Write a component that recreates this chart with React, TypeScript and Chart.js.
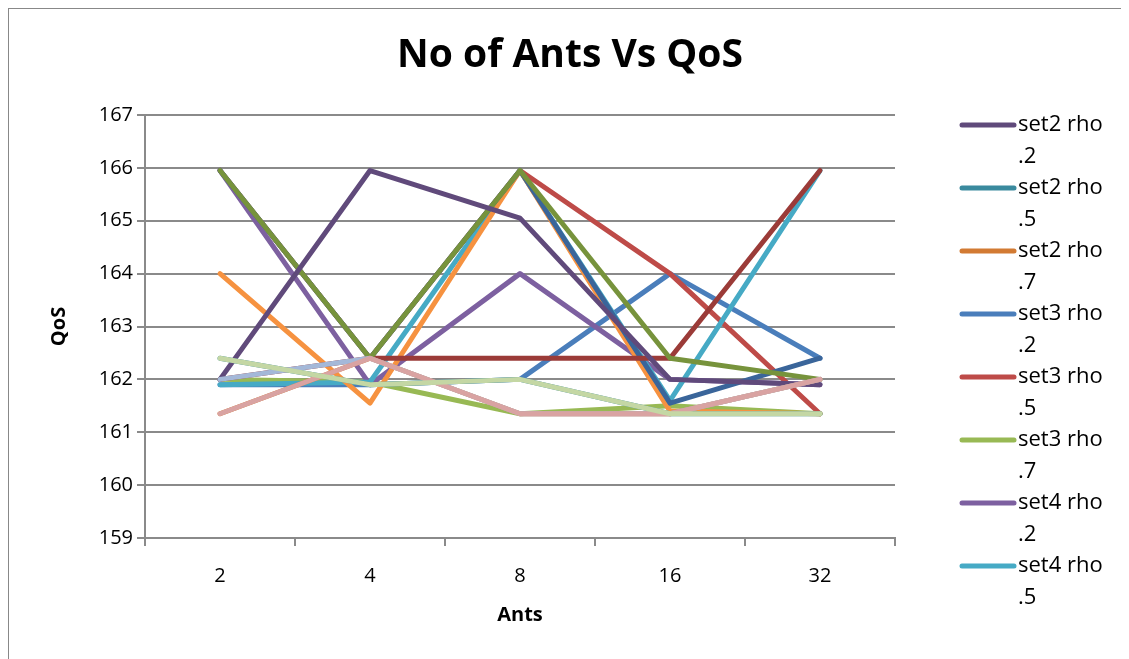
import React, { useEffect, useRef } from "react";
import { Chart, registerables } from "chart.js";

Chart.register(...registerables);

// Categories (number of ants)
const categories = ["2", "4", "8", "16", "32"];
const yMin = 159;
const yMax = 167;

// Series values (QoS)
const set3Rho2 = [161.9, 161.9, 162.0, 164.0, 162.4];
const set3Rho5 = [165.95, 162.4, 165.95, 164.0, 161.35];
const set3Rho7 = [162.0, 161.95, 161.35, 161.5, 161.35];
const set4Rho2 = [165.95, 161.9, 164.0, 162.0, 161.9];
const set4Rho5 = [161.9, 161.95, 165.95, 161.6, 165.95];
const set4Rho7 = [164.0, 161.55, 165.95, 161.4, 161.35];
const set5Rho2 = [165.95, 162.4, 165.95, 161.55, 162.4];
const set5Rho5 = [162.0, 162.4, 162.4, 162.4, 165.95];
const set5Rho7 = [165.95, 162.4, 165.95, 162.4, 162.0];
const set2Rho2 = [162.0, 165.95, 165.05, 162.0, 161.9];
const set2Rho5 = [162.4, 161.9, 162.0, 161.35, 161.35];
const set2Rho7 = [161.35, 162.4, 161.35, 161.35, 162.0];
const set1Rho2 = [162.0, 162.4, 161.35, 161.35, 162.0];
const set1Rho5 = [161.35, 162.4, 161.35, 161.35, 162.0];
const set1Rho7 = [162.4, 161.9, 162.0, 161.35, 161.35];

// Series in drawing order (later drawn on top)
const seriesLabels = [
  "set3 rho .2", "set3 rho .5", "set3 rho .7",
  "set4 rho .2", "set4 rho .5", "set4 rho .7",
  "set5 rho .2", "set5 rho .5", "set5 rho .7",
  "set2 rho .2", "set2 rho .5", "set2 rho .7",
  "set1 rho .2", "set1 rho .5", "set1 rho .7",
];
const seriesValues = [
  set3Rho2, set3Rho5, set3Rho7,
  set4Rho2, set4Rho5, set4Rho7,
  set5Rho2, set5Rho5, set5Rho7,
  set2Rho2, set2Rho5, set2Rho7,
  set1Rho2, set1Rho5, set1Rho7,
];
const seriesColors = [
  "#4A7EBB", "#BE4B48", "#98B954",
  "#7D60A0", "#46AAC5", "#F69240",
  "#3A659A", "#9B3B38", "#77933C",
  "#604A7B", "#3A8A9E", "#D27A33",
  "#A4B8D8", "#D9A3A2", "#C4D7A4",
];

// Entries shown in the (truncated) legend
const legendEntries = [
  "set2 rho .2", "set2 rho .5", "set2 rho .7",
  "set3 rho .2", "set3 rho .5", "set3 rho .7",
  "set4 rho .2", "set4 rho .5",
];

const chartTitle = "No of Ants Vs QoS";
const xTitle = "Ants";
const yTitle = "QoS";

const FONT = '"Open Sans", "Liberation Sans", sans-serif';
const GRID = "#8A8A8A";

const overlayPlugin = {
  id: "overlay",
  afterDraw(chart: any) {
    const ctx = chart.ctx;
    ctx.save();
    ctx.fillStyle = "#000";
    ctx.textAlign = "center";
    ctx.textBaseline = "middle";
    ctx.font = `bold 39px ${FONT}`;
    ctx.fillText(chartTitle, 561, 47);

    ctx.font = `22px ${FONT}`;
    ctx.textAlign = "left";
    legendEntries.forEach((name, i) => {
      const idx = seriesLabels.indexOf(name);
      const y = 116 + i * 63;
      ctx.strokeStyle = seriesColors[idx];
      ctx.lineWidth = 5;
      ctx.lineCap = "round";
      ctx.beginPath();
      ctx.moveTo(953, y);
      ctx.lineTo(1005, y);
      ctx.stroke();
      const cut = name.lastIndexOf(" ");
      ctx.fillStyle = "#000";
      ctx.fillText(name.slice(0, cut), 1009, y);
      ctx.fillText(name.slice(cut + 1), 1009, y + 32);
    });
    ctx.restore();
  },
};

export default function App() {
  const ref = useRef<HTMLCanvasElement | null>(null);

  useEffect(() => {
    document.body.style.overflow = "hidden";
    if (!ref.current) return;
    const chart = new Chart(ref.current, {
      type: "line",
      data: {
        labels: categories,
        datasets: seriesLabels.map((label, i) => ({
          label,
          data: seriesValues[i],
          borderColor: seriesColors[i],
          backgroundColor: seriesColors[i],
          borderWidth: 5,
          pointRadius: 0,
          pointHoverRadius: 0,
          tension: 0,
          fill: false,
          borderJoinStyle: "round" as const,
          borderCapStyle: "round" as const,
          order: seriesLabels.length - i,
        })),
      },
      options: {
        responsive: false,
        animation: false,
        layout: { padding: { left: 36, right: 243, top: 106, bottom: 31 } },
        plugins: {
          legend: { display: false },
          title: { display: false },
          tooltip: { enabled: false },
        },
        scales: {
          x: {
            type: "category",
            offset: true,
            afterFit: (s: any) => {
              s.height = 91;
            },
            grid: {
              display: true,
              drawOnChartArea: false,
              drawTicks: true,
              offset: true,
              tickLength: 8,
              color: GRID,
              lineWidth: 2,
            },
            border: { display: true, color: GRID, width: 2 },
            ticks: { color: "#000", padding: 18, font: { family: FONT, size: 20 } },
            title: {
              display: true,
              text: xTitle,
              color: "#000",
              font: { family: FONT, size: 20, weight: "bold" },
              padding: { top: 2, bottom: 2 },
            },
          },
          y: {
            min: yMin,
            max: yMax,
            afterFit: (s: any) => {
              s.width = 100;
            },
            ticks: {
              stepSize: 1,
              color: "#000",
              padding: 4,
              font: { family: FONT, size: 20 },
            },
            grid: {
              color: GRID,
              lineWidth: 2,
              tickLength: 8,
              drawTicks: true,
            },
            border: { display: true, color: GRID, width: 2 },
            title: {
              display: true,
              text: yTitle,
              color: "#000",
              font: { family: FONT, size: 20, weight: "bold" },
              padding: { top: 2, bottom: 2 },
            },
          },
        },
      },
      plugins: [overlayPlugin],
    });
    return () => chart.destroy();
  }, []);

  return (
    <div
      style={{
        position: "relative",
        width: 1130,
        height: 652,
        borderLeft: "1px solid #888",
        borderTop: "1px solid #888",
        boxSizing: "border-box",
        background: "#fff",
      }}
    >
      <canvas ref={ref} width={1129} height={651} style={{ display: "block" }} />
    </div>
  );
}
